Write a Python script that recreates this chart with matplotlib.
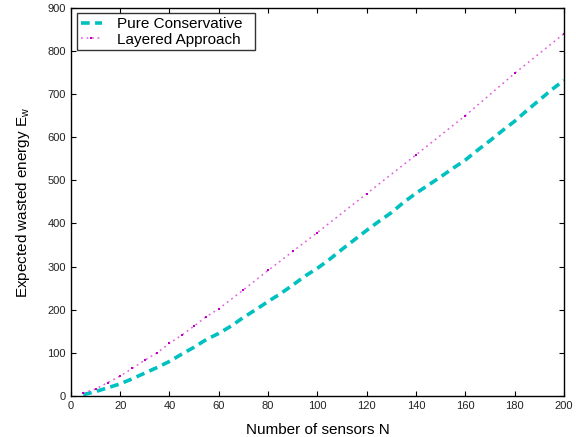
import numpy as np
import matplotlib
matplotlib.use('Agg')
import matplotlib.pyplot as plt

plt.rcParams['font.family'] = ['Liberation Sans', 'DejaVu Sans']

# number of sensors
n_pure = [5, 10, 15, 20, 25, 30, 35, 40, 45, 50, 55, 60, 65, 70, 75, 80, 85, 90, 95, 100,
          105, 110, 115, 120, 125, 130, 135, 140, 145, 150, 155, 160, 165, 170, 175, 180,
          185, 190, 195, 200]
n_layered = [5, 10, 15, 20, 25, 30, 35, 40, 45, 50, 55, 60, 70, 80, 90, 100,
             120, 140, 160, 180, 200]

# expected wasted energy
pure_conservative = [3, 10, 19, 28, 40, 53, 66, 80, 97, 113, 131, 145, 162, 182, 200, 219,
                     237, 257, 278, 296, 317, 340, 362, 384, 405, 425, 449, 470, 489, 508,
                     528, 547, 570, 592, 615, 637, 662, 686, 710, 732]
layered_approach = [7, 16, 31, 46, 64, 83, 100, 122, 141, 162, 184, 202, 246, 291, 335, 379,
                    469, 559, 650, 748, 840]

fig = plt.figure(figsize=(5.76, 4.37), dpi=100)
ax = fig.add_axes([0.123, 0.094, 0.856, 0.888])

ax.plot(n_pure, pure_conservative, linestyle=(0, (2.4, 1.5)), color='#00c0c0',
        linewidth=2.6, dash_capstyle='butt', label='Pure Conservative')
ax.plot(n_layered, layered_approach, linestyle=(0, (1.2, 2.4)), color='#e060e0',
        linewidth=1.1, marker='s', markersize=1.6, markeredgewidth=0,
        markerfacecolor='#c000c0', label='Layered Approach')

ax.set_xlim(0, 200)
ax.set_ylim(0, 900)
ax.set_xticks(np.arange(0, 201, 20))
ax.set_yticks(np.arange(0, 901, 100))
ax.tick_params(direction='in', top=True, right=True, labelsize=8, length=3.6,
               labelcolor='#222222')
for s in ax.spines.values():
    s.set_linewidth(1.0)

ax.set_xlabel('Number of sensors N', fontsize=11, labelpad=9)
ax.set_ylabel('Expected wasted energy E$_{\\mathregular{w}}$', fontsize=11, labelpad=11)

leg = ax.legend(loc='upper left', bbox_to_anchor=(0.012, 0.0, 0.361, 0.986),
                mode='expand', fontsize=11, frameon=True, fancybox=False,
                edgecolor='black', borderaxespad=0.0, handlelength=1.4,
                handletextpad=1.0, borderpad=0.25, labelspacing=0.1)
leg.get_frame().set_linewidth(1.0)

fig.savefig('out.png', dpi=100)
